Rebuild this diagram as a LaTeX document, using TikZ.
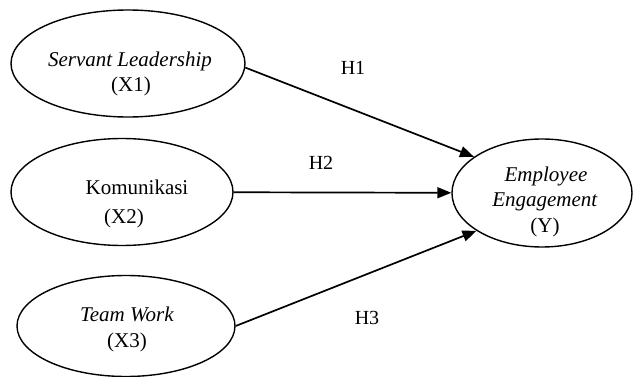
\documentclass[tikz,border=0pt]{standalone}
\usepackage{fontspec}
\setmainfont{Liberation Serif}
\usetikzlibrary{shapes.geometric,arrows.meta}
\tikzset{
  var/.style={draw, ellipse, line width=1.4pt},
  lbl/.style={anchor=base, font=\fontsize{21}{25}\selectfont, inner sep=0pt},
  path/.style={line width=1.7pt, -{Triangle[length=14pt,width=11pt]}},
  hyp/.style={anchor=base, font=\fontsize{20}{24}\selectfont, inner sep=0pt}
}
\begin{document}
\begin{tikzpicture}[x=1pt,y=-1pt]
\useasboundingbox (0,0) rectangle (633,377);
\node[var, minimum width=234pt, minimum height=107pt] (x1) at (128,63.5) {};
\node[var, minimum width=222pt, minimum height=107pt] (x2) at (122,192) {};
\node[var, minimum width=218pt, minimum height=101pt] (x3) at (126,326) {};
\node[var, minimum width=180pt, minimum height=108pt] (y) at (542,193) {};
\node[lbl] (t1a) at (130,67) {\textit{Servant Leadership}};
\node[lbl] (t1b) at (131,92) {(X1)};
\node[lbl] (t2a) at (137,195) {Komunikasi};
\node[lbl] (t2b) at (124,224) {(X2)};
\node[lbl] (t3a) at (127,322) {\textit{Team Work}};
\node[lbl] (t3b) at (127,348) {(X3)};
\node[lbl] (tya) at (546,182) {\textit{Employee}};
\node[lbl] (tyb) at (545,207) {\textit{Engagement}};
\node[lbl] (tyc) at (545,233) {(Y)};
\draw[path] (x1.-2) -- (y.152);
\draw[path] (x2) -- (y);
\draw[path] (x3.east) -- (y.210);
\node[hyp] (h1) at (353,75) {H1};
\node[hyp] (h2) at (321,170) {H2};
\node[hyp] (h3) at (367,325) {H3};
\end{tikzpicture}
\end{document}
